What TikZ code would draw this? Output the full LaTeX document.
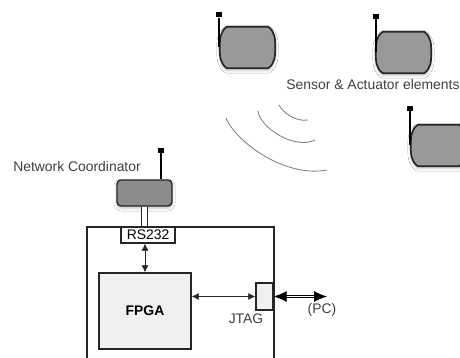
\documentclass[tikz,border=0pt]{standalone}
\usepackage{fontspec}
\setsansfont{Liberation Sans}
\usetikzlibrary{arrows.meta,shadows.blur}
\tikzset{>={Latex[length=7pt,width=7pt]}}

\begin{document}
\begin{tikzpicture}[x=1pt,y=-1pt,font=\sffamily]

        % Setup the styles for the blocks
        \tikzset{block style/.style={rectangle,
                                     inner sep=0pt,
                                     line width=0.5mm,
                                     draw=black!85,
                                     fill=gray!12!white},
                 radio style/.style={rectangle,
                                     inner sep=0pt,
                                     minimum width=55pt,
                                     minimum height=41pt},
                 tip style/.style={rectangle,
                                   inner sep=0pt,
                                   minimum width=6pt,
                                   minimum height=5pt,
                                   fill=black},
                 soft shadow/.style={blur shadow={shadow xshift=0pt,
                                                  shadow yshift=-2pt,
                                                  shadow blur radius=3pt,
                                                  shadow opacity=25}},
                 label style/.style={text=black!75,
                                     inner sep=0pt,
                                     font=\sffamily\fontsize{13.9}{16}\selectfont}}

        % Fix the page and keep what runs over it
        \clip (0, 0) rectangle (460, 358);
        \fill[white] (0, 0) rectangle (460, 358);

        % Draw the board and its blocks
        \node[block style, fill=white, minimum width=187pt, minimum height=143pt] at (180.5, 298.5) (board) {};
        \node[block style, minimum width=92pt, minimum height=76pt] at (145, 311) (fpga) {\textbf{\fontsize{13.9}{16}\selectfont FPGA}};
        \node[block style, fill=white, minimum width=54pt, minimum height=16pt] at (148, 235) (rs) {\fontsize{13.9}{16}\selectfont RS232};
        \node[block style, minimum width=17pt, minimum height=27pt] at (264.5, 296.5) (jtag) {};

        % Draw the coordinator
        \node[block style, fill=gray!90!white, rounded corners=4pt, soft shadow,
              minimum width=55pt, minimum height=26pt] at (144.5, 193) (coord) {};
        \node[tip style] at (161, 150.5) (tip0) {};

        % Draw the sensors
        \node[radio style] at (247.5, 47.5) (s1) {};
        \node[radio style] at (403.5, 52.5) (s2) {};
        \node[radio style] at (438.5, 145.5) (s3) {};
        \node[tip style] at (219, 15) (tip1) {};
        \node[tip style] at (376, 16.5) (tip2) {};
        \node[tip style] at (410, 108.5) (tip3) {};

        \foreach \s in {s1,s2,s3}
            \draw[line width=0.6mm, draw=black!85, fill=gray!80!white, soft shadow]
                ([xshift=7pt]\s.north west) -- ([xshift=-7pt]\s.north east)
                to[out=-35,in=90] (\s.east) to[out=-90,in=35] ([xshift=-7pt]\s.south east)
                -- ([xshift=7pt]\s.south west)
                to[out=145,in=-90] (\s.west) to[out=90,in=-145] cycle;

        % Connect the antennas
        \draw[line width=0.5mm, draw=black] (tip0) -- (tip0 |- coord.north);
        \draw[line width=0.5mm, draw=black] (tip1) -- (tip1 |- s1.west);
        \draw[line width=0.5mm, draw=black] (tip2) -- (tip2 |- s2.west);
        \draw[line width=0.5mm, draw=black] (tip3) -- (tip3 |- s3.west);

        % Connect the blocks with arrows
        \coordinate (pc) at (327, 296.5);
        \draw[double, double distance=4.5pt, line width=0.3mm, draw=black!85] (coord.south) -- (coord.south |- rs.north);
        \draw[<->, line width=0.25mm, draw=black!85] (fpga.north) -- (fpga.north |- rs.south);
        \draw[<->, line width=0.25mm, draw=black!85] (jtag.west -| fpga.east) -- (jtag.west);
        \draw[{Latex[length=13pt,width=11pt]}-{Latex[length=13pt,width=11pt]}, double, double distance=1.5pt, line width=0.3mm, draw=black] (jtag.east) -- (pc);

        % Draw the waves
        \draw[line width=0.3mm, draw=gray] (226, 118) .. controls (236, 142) and (285, 178) .. (327, 170);
        \draw[line width=0.3mm, draw=gray] (258, 111) .. controls (260, 128) and (295, 150) .. (315, 140);
        \draw[line width=0.3mm, draw=gray] (279, 105) .. controls (283, 113) and (296, 122) .. (308, 120);

        % Write the labels
        \node[label style] at (77, 166.5) (coordlabel) {Network Coordinator};
        \node[label style] at (373, 85) (sensorlabel) {Sensor \& Actuator elements};
        \node[label style] at (246, 318.5) (jtaglabel) {JTAG};
        \node[label style] at (322, 310) (pclabel) {(PC)};
\end{tikzpicture}
\end{document}
